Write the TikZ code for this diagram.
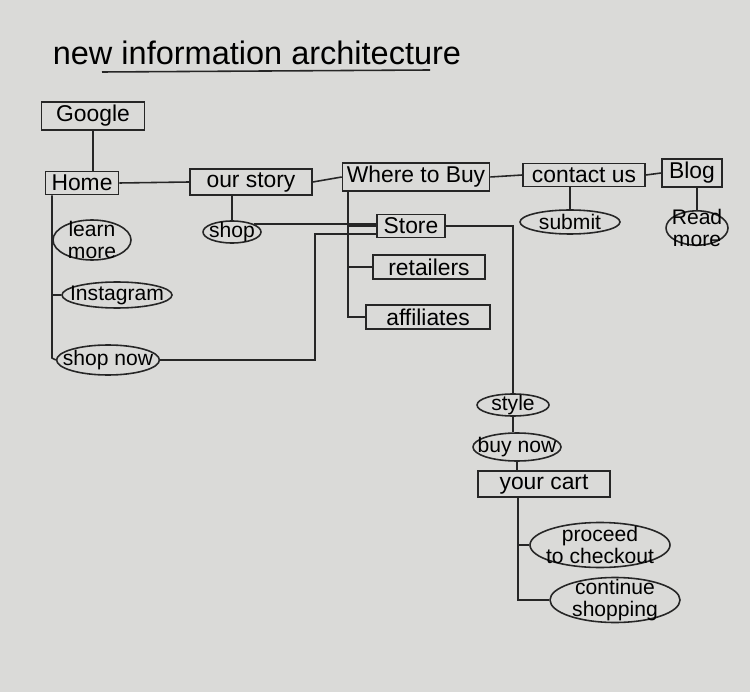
\documentclass[tikz,border=0pt]{standalone}
\usepackage{fontspec}
\setmainfont{Liberation Sans}
\usetikzlibrary{shapes.geometric}
\tikzset{>=latex}
\definecolor{paper}{RGB}{218,218,216}
\colorlet{ink}{black!85}
\tikzstyle{page}=[draw=ink,line width=0.9pt,rectangle,inner sep=2pt,font=\fontsize{13}{15}\selectfont]
\tikzstyle{action}=[draw=ink,line width=0.9pt,ellipse,inner xsep=-5pt,inner ysep=-2pt,align=center,font=\fontsize{12}{13}\selectfont]
\tikzstyle{twoline}=[inner ysep=-4pt]
\tikzstyle{link}=[ink,line width=0.9pt]
\def\px{0.02cm}

\begin{document}
\begin{tikzpicture}[x=\px,y=-\px]

  \fill[paper] (0,0) rectangle (750,692);
  \useasboundingbox (0,0) rectangle (750,692);

  % TITLE
  \node[font=\fontsize{18.5}{22}\selectfont] (title) at (257,53) {new information architecture};
  \coordinate (ulL) at (102,72);
  \coordinate (ulR) at (430,70);
  \draw[link] (ulL) -- (ulR);

  % MAIN PAGES
  \node[page,minimum width=103*\px,minimum height=22*\px] (google)  at ( 93,116) {Google};
  \node[page,minimum width= 73*\px,minimum height=20*\px] (home)    at ( 82,183) {Home};
  \node[page,minimum width=122*\px,minimum height=21*\px] (story)   at (251,182) {our story};
  \node[page,minimum width=147*\px,minimum height=23*\px] (buy)     at (416,177) {Where to Buy};
  \node[page,minimum width=122*\px,minimum height=23*\px] (contact) at (584,175) {contact us};
  \node[page,minimum width= 60*\px,minimum height=21*\px] (blog)    at (692,173) {Blog};

  \draw[link] (google.south) -- (google.south |- home.north);
  \draw[link] (home.east) -- (story.west);
  \draw[link] (story.east) -- (buy.west);
  \draw[link] (buy.east) -- (contact.west);
  \draw[link] (contact.east) -- (blog.west);

  % HOME
  \node[action,twoline,minimum width= 78*\px,minimum height=40*\px] (learn)   at ( 92,240) {learn\\more};
  \node[action,minimum width=110*\px,minimum height=26*\px]         (insta)   at (117,295) {Instagram};
  \node[action,minimum width= 95*\px,minimum height=30*\px]         (shopnow) at (108,360) {shop now};
  \coordinate (homefoot) at (52,358);
  \draw[link] (home.south west -| homefoot) -- (homefoot) -- (shopnow.west);
  \draw[link] (homefoot |- learn.west) -- (learn.west);
  \draw[link] (homefoot |- insta.west) -- (insta.west);

  % OUR STORY
  \node[action,minimum width=58*\px,minimum height=22*\px] (shop) at (232,232) {shop};
  \draw[link] (shop.north |- story.south) -- (shop.north);

  % WHERE TO BUY
  \node[page,minimum width= 68*\px,minimum height=20*\px] (store)      at (411,226) {Store};
  \node[page,minimum width=112*\px,minimum height=22*\px] (retailers)  at (429,267) {retailers};
  \node[page,minimum width=124*\px,minimum height=23*\px] (affiliates) at (428,317) {affiliates};
  \coordinate (buyfoot) at (348,317);
  \draw[link] (buy.south west -| buyfoot) -- (buyfoot) -- (affiliates.west);
  \draw[link] (buyfoot |- store.west) -- (store.west);
  \draw[link] (buyfoot |- retailers.west) -- (retailers.west);
  \draw[link] (shop.20) -- (shop.20 -| store.west);
  \coordinate (jog) at (315,234);
  \draw[link] (shopnow.east) -| (jog) -- (jog -| store.west);

  % CONTACT AND BLOG
  \node[action,minimum width=100*\px,minimum height=24*\px]        (submit)   at (570,222) {submit};
  \node[action,twoline,minimum width=62*\px,minimum height=32*\px] (readmore) at (697,228) {Read\\more};
  \draw[link] (submit.north |- contact.south) -- (submit.north);
  \draw[link] (readmore.north |- blog.south) -- (readmore.north);

  % CHECKOUT
  \node[action,minimum width=72*\px,minimum height=22*\px] (style)  at (513,405) {style};
  \node[action,minimum width=88*\px,minimum height=28*\px] (buynow) at (517,447) {buy now};
  \node[page,minimum width=132*\px,minimum height=22*\px]  (cart)   at (544,484) {your cart};
  \node[action,twoline,minimum width=140*\px,minimum height=45*\px] (checkout) at (600,545) {proceed\\to checkout};
  \node[action,twoline,minimum width=130*\px,minimum height=45*\px] (continue) at (615,600) {continue\\shopping};
  \draw[link] (store.east) -| (style.north);
  \draw[link] (style.south) -- (style.south |- buynow.north);
  \draw[link] (buynow.south) -- (buynow.south |- cart.north);
  \coordinate (cartfoot) at (518,600);
  \draw[link] (cart.south -| cartfoot) -- (cartfoot) -- (continue.west);
  \draw[link] (cartfoot |- checkout.west) -- (checkout.west);

\end{tikzpicture}
\end{document}
